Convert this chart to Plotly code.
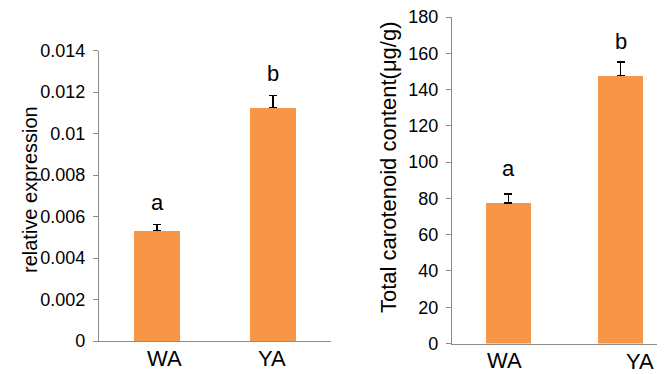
import plotly.graph_objects as go

categories = ["WA", "YA"]

expr_values = [0.00533, 0.01125]
expr_errors = [0.0003, 0.0006]
expr_letters = ["a", "b"]
expr_ticks = [0, 0.002, 0.004, 0.006, 0.008, 0.01, 0.012, 0.014]
expr_ticktext = ["0", "0.002", "0.004", "0.006", "0.008", "0.01", "0.012", "0.014"]

car_values = [77.5, 147.6]
car_errors = [4.9, 7.6]
car_letters = ["a", "b"]
car_ticks = [0, 20, 40, 60, 80, 100, 120, 140, 160, 180]

OFF = 8  # page body margin offset
W, H = 665 - OFF, 374 - OFF
FONT = "Liberation Sans, Arial, sans-serif"
BAR = "#F79646"
AXIS = "#8c8c8c"


def px_x(p):
    return (p - OFF) / W


def px_y(p):
    return 1 - (p - OFF) / H


fig = go.Figure()

fig.add_trace(go.Bar(
    x=categories, y=expr_values, width=0.4, marker=dict(color=BAR, line=dict(width=0)),
    error_y=dict(type="data", array=expr_errors, arrayminus=[0, 0], symmetric=False,
                 color="black", thickness=1.3, width=4),
    xaxis="x", yaxis="y", showlegend=False,
))
fig.add_trace(go.Bar(
    x=categories, y=car_values, width=0.4, marker=dict(color=BAR, line=dict(width=0)),
    error_y=dict(type="data", array=car_errors, arrayminus=[0, 0], symmetric=False,
                 color="black", thickness=1.3, width=4),
    xaxis="x2", yaxis="y2", showlegend=False,
))

xcommon = dict(showline=True, linecolor=AXIS, linewidth=1.3, ticks="", showticklabels=False,
               showgrid=False, zeroline=False, type="category", fixedrange=True,
               automargin=False)
ycommon = dict(showline=True, linecolor=AXIS, linewidth=1.3, ticks="outside", ticklen=5,
               tickwidth=1.3, tickcolor=AXIS, showgrid=False, zeroline=False,
               tickfont=dict(family=FONT, size=18, color="black"), ticklabelstandoff=4,
               automargin=False, ticklabeloverflow="allow")

fig.update_layout(
    template="none",
    width=W, height=H,
    margin=dict(l=0, r=0, t=0, b=0, pad=0),
    paper_bgcolor="white", plot_bgcolor="white",
    bargap=0,
    xaxis=dict(xcommon, domain=[px_x(99), px_x(331)], range=[-0.5, 1.5], anchor="y"),
    yaxis=dict(ycommon, domain=[px_y(341), px_y(50.7)], range=[0, 0.014], anchor="x",
               tickvals=expr_ticks, ticktext=expr_ticktext),
    xaxis2=dict(xcommon, domain=[px_x(452), 1.0], range=[-0.5, 1.468 - 8 / 108], anchor="y2"),
    yaxis2=dict(ycommon, domain=[px_y(343.5), px_y(17)], range=[0, 180], anchor="x2",
                tickvals=car_ticks),
)

ann = []
# axis titles
ann.append(dict(text="relative expression", xref="paper", yref="paper",
                x=px_x(30), y=px_y(190), textangle=-90, showarrow=False,
                font=dict(family=FONT, size=20, color="black"),
                xanchor="center", yanchor="middle"))
ann.append(dict(text="Total carotenoid content(μg/g)", xref="paper", yref="paper",
                x=px_x(389), y=px_y(167), textangle=-90, showarrow=False,
                font=dict(family=FONT, size=22, color="black"),
                xanchor="center", yanchor="middle"))

# category labels
left_shift = [7, -1]
right_shift = [-3.5, 19.5]
right_y = [360, 361]
for i, c in enumerate(categories):
    ann.append(dict(text=c, xref="x", yref="paper", x=c, y=px_y(358), xshift=left_shift[i],
                    showarrow=False, font=dict(family=FONT, size=22, color="black"),
                    xanchor="center", yanchor="middle"))
    ann.append(dict(text=c, xref="x2", yref="paper", x=c, y=px_y(right_y[i]), xshift=right_shift[i],
                    showarrow=False, font=dict(family=FONT, size=22, color="black"),
                    xanchor="center", yanchor="middle"))

# significance letters
left_ys = [7, 7]
right_ys = [11, 6]
for i, c in enumerate(categories):
    ann.append(dict(text=expr_letters[i], xref="x", yref="y", x=c,
                    y=expr_values[i] + expr_errors[i], yshift=left_ys[i],
                    showarrow=False, font=dict(family=FONT, size=22, color="black"),
                    xanchor="center", yanchor="bottom"))
    ann.append(dict(text=car_letters[i], xref="x2", yref="y2", x=c,
                    y=car_values[i] + car_errors[i], yshift=right_ys[i],
                    showarrow=False, font=dict(family=FONT, size=22, color="black"),
                    xanchor="center", yanchor="bottom"))

fig.update_layout(annotations=ann)

fig.write_html("out.html")
